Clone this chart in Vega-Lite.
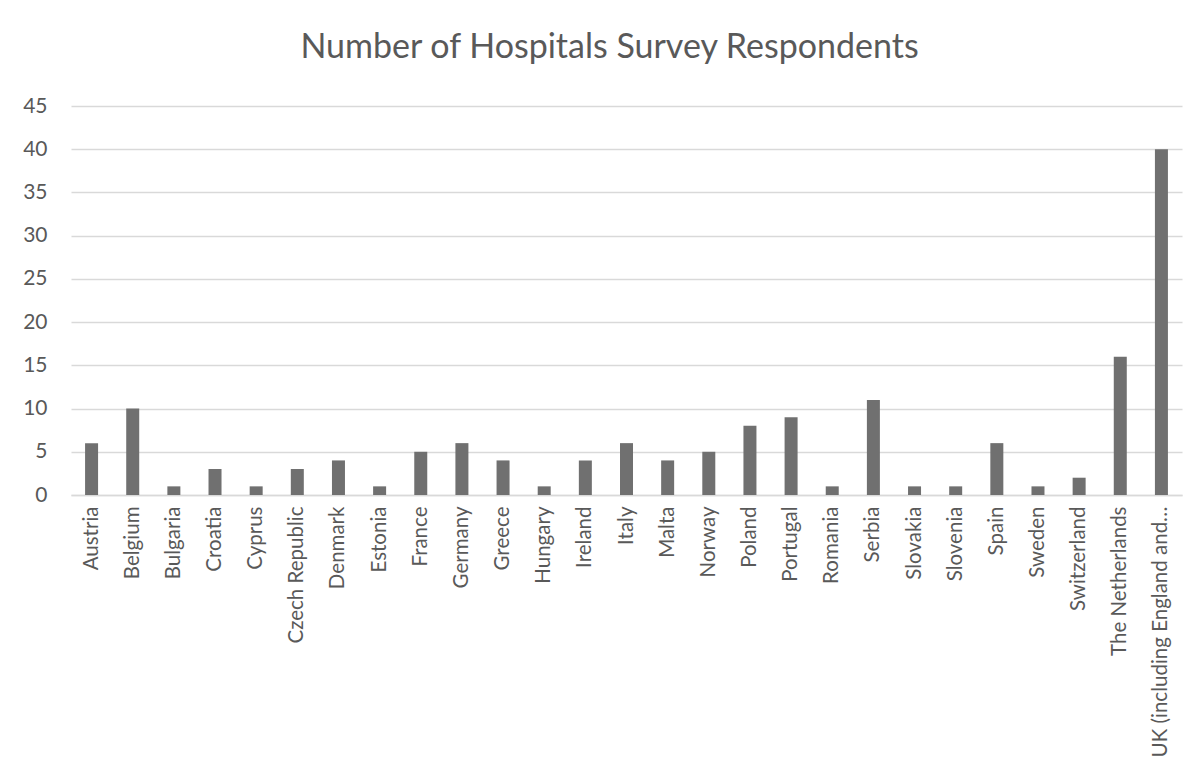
{
  "$schema": "https://vega.github.io/schema/vega-lite/v6.json",
  "autosize": "none",
  "width": 1111,
  "height": 389,
  "padding": {"left": 71, "top": 106, "right": 21, "bottom": 288},
  "background": "white",
  "title": {
    "text": "Number of Hospitals Survey Respondents",
    "font": "Lato",
    "fontSize": 34,
    "fontWeight": "normal",
    "color": "#595959",
    "anchor": "middle",
    "baseline": "alphabetic",
    "offset": 3,
    "dx": -17
  },
  "data": {
    "values": [
      {"country": "Austria", "count": 6},
      {"country": "Belgium", "count": 10},
      {"country": "Bulgaria", "count": 1},
      {"country": "Croatia", "count": 3},
      {"country": "Cyprus", "count": 1},
      {"country": "Czech Republic", "count": 3},
      {"country": "Denmark", "count": 4},
      {"country": "Estonia", "count": 1},
      {"country": "France", "count": 5},
      {"country": "Germany", "count": 6},
      {"country": "Greece", "count": 4},
      {"country": "Hungary", "count": 1},
      {"country": "Ireland", "count": 4},
      {"country": "Italy", "count": 6},
      {"country": "Malta", "count": 4},
      {"country": "Norway", "count": 5},
      {"country": "Poland", "count": 8},
      {"country": "Portugal", "count": 9},
      {"country": "Romania", "count": 1},
      {"country": "Serbia", "count": 11},
      {"country": "Slovakia", "count": 1},
      {"country": "Slovenia", "count": 1},
      {"country": "Spain", "count": 6},
      {"country": "Sweden", "count": 1},
      {"country": "Switzerland", "count": 2},
      {"country": "The Netherlands", "count": 16},
      {"country": "UK (including  England and…", "count": 40}
    ]
  },
  "mark": {"type": "bar", "color": "#707070"},
  "encoding": {
    "x": {
      "field": "country",
      "type": "nominal",
      "sort": null,
      "scale": {"paddingInner": 0.684, "paddingOuter": 0.342},
      "axis": {
        "title": null,
        "labelAngle": -90,
        "labelFont": "Lato",
        "labelFontSize": 20.5,
        "labelColor": "#595959",
        "labelPadding": 11,
        "labelLimit": 400,
        "ticks": false,
        "tickSize": 0,
        "domainColor": "#d9d9d9",
        "domainWidth": 1.5
      }
    },
    "y": {
      "field": "count",
      "type": "quantitative",
      "scale": {"domain": [0, 45]},
      "axis": {
        "title": null,
        "values": [0, 5, 10, 15, 20, 25, 30, 35, 40, 45],
        "labelFont": "Lato",
        "labelFontSize": 21,
        "labelColor": "#595959",
        "labelPadding": 24,
        "ticks": false,
        "tickSize": 0,
        "domain": false,
        "gridColor": "#d9d9d9",
        "gridWidth": 1.5
      }
    }
  },
  "config": {"view": {"stroke": null}}
}
